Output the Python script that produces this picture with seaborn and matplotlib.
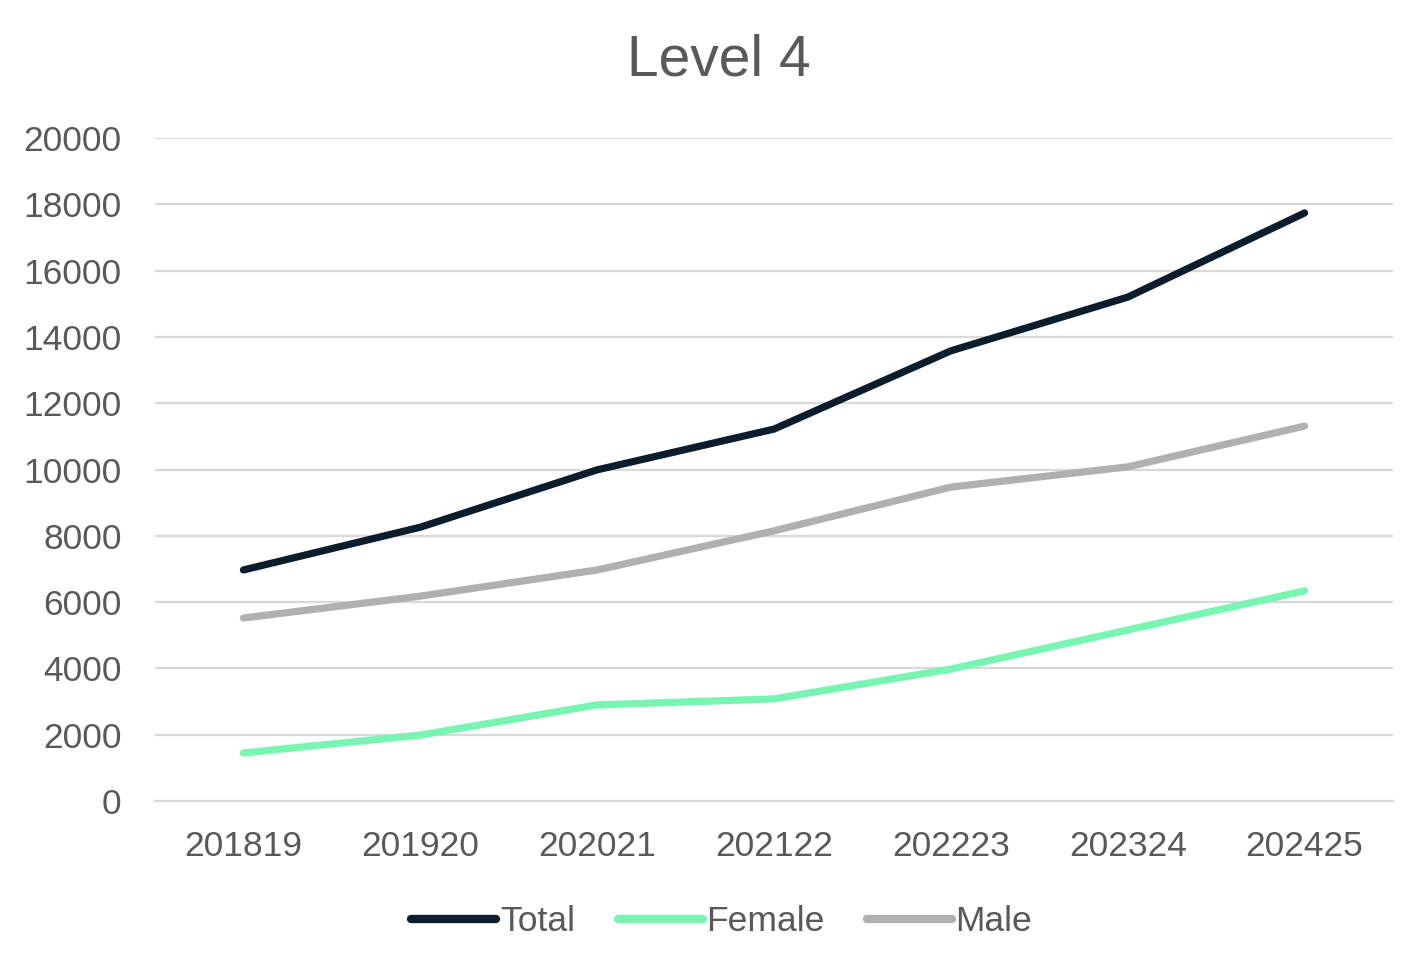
import pandas as pd
import seaborn as sns
import matplotlib.pyplot as plt

years = ["201819", "201920", "202021", "202122", "202223", "202324", "202425"]
total = [6970, 8260, 9990, 11220, 13580, 15200, 17740]
female = [1450, 1990, 2900, 3080, 3980, 5160, 6340]
male = [5520, 6180, 6970, 8150, 9470, 10080, 11310]

series = ["Total", "Female", "Male"]
colors = {"Total": "#0b1c2c", "Female": "#78f5b3", "Male": "#b0b0b0"}
text_col = "#595959"
grid_col = "#d9d9d9"

df = pd.DataFrame({
    "Year": years * 3,
    "Value": total + female + male,
    "Series": ["Total"] * 7 + ["Female"] * 7 + ["Male"] * 7,
})

sns.set_theme(style="white")
plt.rcParams["font.family"] = ["Liberation Sans", "DejaVu Sans"]

fig = plt.figure(figsize=(14.21, 9.74), dpi=100)
ax = fig.add_axes([0.1091, 0.1776, 0.8712, 0.6807])

sns.lineplot(data=df, x="Year", y="Value", hue="Series", hue_order=series,
             palette=colors, linewidth=5.2, sort=False, ax=ax,
             solid_capstyle="round")

ax.set_xlim(-0.5, 6.5)
ax.set_ylim(0, 20000)
ax.set_yticks(range(0, 20001, 2000))
ax.yaxis.grid(True, color=grid_col, linewidth=1.6)
ax.xaxis.grid(False)
ax.set_axisbelow(True)
for side in ["top", "right", "left"]:
    ax.spines[side].set_visible(False)
ax.spines["bottom"].set_color(grid_col)
ax.spines["bottom"].set_linewidth(1.6)
ax.tick_params(axis="x", length=0, pad=21, labelsize=25.5, labelcolor=text_col)
ax.tick_params(axis="y", length=0, pad=24, labelsize=25.5, labelcolor=text_col)
ax.set_xlabel("")
ax.set_ylabel("")

handles, labels = ax.get_legend_handles_labels()
ax.get_legend().remove()
for h in handles:
    h.set_linewidth(6)
    h.set_solid_capstyle("round")
leg = fig.legend(handles, labels, loc="center", bbox_to_anchor=(0.508, 0.054),
                 ncol=3, frameon=False, fontsize=25.5, handlelength=2.4,
                 handletextpad=0.1, columnspacing=1.2)
for t in leg.get_texts():
    t.set_color(text_col)

fig.text(0.5056, 0.922, "Level 4", ha="center", va="baseline",
         fontsize=41, color=text_col)

fig.savefig("out.png", dpi=100)
